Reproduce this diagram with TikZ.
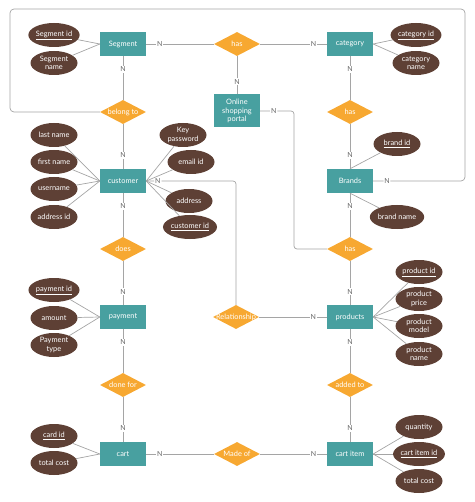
\documentclass[tikz,border=0pt]{standalone}
\usepackage{fontspec}
\setmainfont{Lato}
\usetikzlibrary{shapes.geometric}
\definecolor{entcol}{RGB}{72,160,160}
\definecolor{relcol}{RGB}{247,168,49}
\definecolor{attcol}{RGB}{94,64,53}
\definecolor{linecol}{RGB}{165,165,165}
\newcommand{\rtext}[1]{\makebox[0pt]{#1}}

\begin{document}
\begin{tikzpicture}[x=1pt,y=-1pt,font=\fontsize{7.4}{8.4}\selectfont,
    ent/.style={rectangle,fill=entcol,text=white,minimum width=46pt,minimum height=24pt,inner sep=0pt,align=center},
    rel/.style={diamond,fill=relcol,text=white,minimum width=46pt,minimum height=24pt,inner sep=0pt},
    attr/.style={ellipse,fill=attcol,text=white,minimum width=47pt,minimum height=24pt,inner sep=0pt,align=center},
    lnk/.style={draw=linecol,line width=0.7pt},
    nn/.style={fill=white,text=black!60,inner sep=1pt,font=\fontsize{7}{7}\selectfont}]
  \useasboundingbox (0,0) rectangle (474,502);

  % entities
  \node[ent] (seg)    at (123,44)  {Segment};
  \node[ent] (cat)    at (350,44)  {category};
  \node[ent,minimum height=33pt] (portal) at (237,111) {Online\\shopping\\portal};
  \node[ent] (cust)   at (123,181) {customer};
  \node[ent] (brands) at (350,181) {Brands};
  \node[ent] (pay)    at (123,317) {payment};
  \node[ent] (prod)   at (350,317) {products};
  \node[ent] (cart)   at (123,454) {cart};
  \node[ent] (citem)  at (350,454) {cart item};

  % relationships
  \node[rel] (hasa)   at (237,44)  {\rtext{has}};
  \node[rel] (belong) at (123,112) {\rtext{belong to}};
  \node[rel] (hasc)   at (350,112) {\rtext{has}};
  \node[rel] (does)   at (123,249) {\rtext{does}};
  \node[rel] (hasb)   at (350,249) {\rtext{has}};
  \node[rel] (rship)  at (236,317) {\rtext{Relationship}};
  \node[rel] (done)   at (123,385) {\rtext{done for}};
  \node[rel] (added)  at (350,385) {\rtext{added to}};
  \node[rel] (madeof) at (237,454) {\rtext{Made of}};

  % attributes
  \node[attr] (segid)   at (54,35)   {\underline{Segment id}};
  \node[attr] (segname) at (54,63)   {Segment\\name};
  \node[attr] (catid)   at (416,35)  {\underline{category id}};
  \node[attr] (catname) at (416,63)  {category\\name};
  \node[attr] (lname)   at (54,135)  {last name};
  \node[attr] (fname)   at (54,162)  {first name};
  \node[attr] (uname)   at (54,189)  {username};
  \node[attr] (addrid)  at (54,217)  {address id};
  \node[attr] (keypw)   at (183,135) {Key\\password};
  \node[attr] (email)   at (191,162) {email id};
  \node[attr] (addr)    at (189,201) {address};
  \node[attr] (custid)  at (190,227) {\underline{customer id}};
  \node[attr] (brandid) at (397,144) {\underline{brand id}};
  \node[attr] (brandnm) at (397,217) {brand name};
  \node[attr] (payid)   at (54,290)  {\underline{payment id}};
  \node[attr] (amount)  at (54,318)  {amount};
  \node[attr] (paytype) at (54,345)  {Payment\\type};
  \node[attr] (prodid)  at (419,272) {\underline{product id}};
  \node[attr] (prodpr)  at (419,299) {product\\price};
  \node[attr] (prodmd)  at (419,326) {product\\model};
  \node[attr] (prodnm)  at (419,354) {product\\name};
  \node[attr] (cardid)  at (54,436)  {\underline{card id}};
  \node[attr] (cost)    at (54,463)  {total cost};
  \node[attr] (qty)     at (419,427) {quantity};
  \node[attr] (citemid) at (419,454) {\underline{cart item id}};
  \node[attr] (icost)   at (419,481) {total cost};

  % attribute links
  \foreach \a in {segid,segname}              \draw[lnk] (\a) -- (seg.west);
  \foreach \a in {catid,catname}              \draw[lnk] (\a) -- (cat.east);
  \foreach \a in {lname,fname,uname,addrid}   \draw[lnk] (\a) -- (cust.west);
  \foreach \a in {keypw,email,addr,custid}    \draw[lnk] (\a) -- (cust.east);
  \foreach \a in {payid,amount,paytype}       \draw[lnk] (\a) -- (pay.west);
  \foreach \a in {prodid,prodpr,prodmd,prodnm} \draw[lnk] (\a) -- (prod.east);
  \foreach \a in {cardid,cost}                \draw[lnk] (\a) -- (cart.west);
  \foreach \a in {qty,citemid,icost}          \draw[lnk] (\a) -- (citem.east);
  \draw[lnk] (brandid) -- (brands.north);
  \draw[lnk] (brandnm) -- (brands.south);

  % relationship links
  \draw[lnk] (seg)    -- node[nn,pos=0.2]{N}  (hasa);
  \draw[lnk] (hasa)   -- node[nn,pos=0.8]{N}  (cat);
  \draw[lnk] (hasa)   -- node[nn,pos=0.67]{N} (portal);
  \draw[lnk] (seg)    -- node[nn,pos=0.3]{N}  (belong);
  \draw[lnk] (belong) -- node[nn,pos=0.7]{N}  (cust);
  \draw[lnk] (cat)    -- node[nn,pos=0.3]{N}  (hasc);
  \draw[lnk] (hasc)   -- node[nn,pos=0.7]{N}  (brands);
  \draw[lnk] (brands) -- node[nn,pos=0.3]{N}  (hasb);
  \draw[lnk] (cust)   -- node[nn,pos=0.3]{N}  (does);
  \draw[lnk] (does)   -- node[nn,pos=0.7]{N}  (pay);
  \draw[lnk] (pay)    -- node[nn,pos=0.3]{N}  (done);
  \draw[lnk] (done)   -- node[nn,pos=0.7]{N}  (cart);
  \draw[lnk] (hasb)   -- node[nn,pos=0.7]{N}  (prod);
  \draw[lnk] (prod)   -- node[nn,pos=0.3]{N}  (added);
  \draw[lnk] (added)  -- node[nn,pos=0.7]{N}  (citem);
  \draw[lnk] (cart)   -- node[nn,pos=0.2]{N}  (madeof);
  \draw[lnk] (madeof) -- node[nn,pos=0.8]{N}  (citem);
  \draw[lnk] (rship)  -- node[nn,pos=0.8]{N}  (prod);
  \draw[lnk,rounded corners=3pt] (cust.east) -- node[nn,pos=0.13]{N} (rship.north |- cust.east) -- (rship.north);
  \draw[lnk,rounded corners=3pt] (portal.east) -- node[nn,pos=0.4]{N} (294,111) |- (hasb.west);
  \draw[lnk,rounded corners=4pt] (belong.west) -| (10,9) -| (465,181) -- node[nn,pos=0.85]{N} (brands.east);
\end{tikzpicture}
\end{document}
